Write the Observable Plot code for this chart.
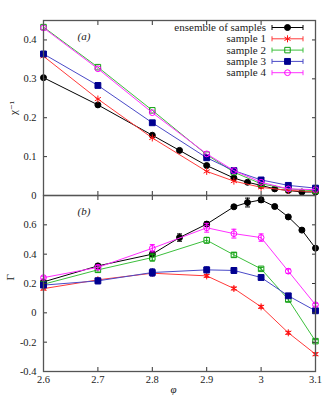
<!DOCTYPE html>
<html><head><meta charset="utf-8">
<script src="https://cdn.jsdelivr.net/npm/d3@7"></script>
<script src="https://cdn.jsdelivr.net/npm/@observablehq/plot@0.6"></script>
<style>
body{margin:0;background:#fff;}
#wrap{position:relative;width:332px;height:399px;overflow:hidden;font-family:'Liberation Serif','DejaVu Serif',serif;}
#wrap svg{position:absolute;left:0;background:transparent;}
#wrap svg text{font-family:'Liberation Serif','DejaVu Serif',serif;}
</style></head><body><div id="wrap"></div>
<script>
// ---- data ----
const phiEnsemble = [2.6, 2.7, 2.8, 2.85, 2.9, 2.95, 2.975, 3.0, 3.025, 3.05, 3.075, 3.1];
const phiSample = [2.6, 2.7, 2.8, 2.9, 2.95, 3.0, 3.05, 3.1];
const seriesNames = ["ensemble of samples", "sample 1", "sample 2", "sample 3", "sample 4"];

const chiEnsemble = [0.303, 0.233, 0.155, 0.116, 0.077, 0.045, 0.034, 0.026, 0.017, 0.013, 0.009, 0.009];
const chiS1 = [0.358, 0.248, 0.148, 0.062, 0.037, 0.021, 0.013, 0.010];
const chiS2 = [0.433, 0.330, 0.219, 0.105, 0.060, 0.030, 0.017, 0.012];
const chiS3 = [0.364, 0.283, 0.187, 0.097, 0.064, 0.040, 0.026, 0.019];
const chiS4 = [0.431, 0.326, 0.213, 0.107, 0.064, 0.034, 0.017, 0.015];

const gEnsemble = [0.211, 0.320, 0.400, 0.513, 0.605, 0.723, 0.752, 0.770, 0.725, 0.654, 0.564, 0.441];
const gS1 = [0.165, 0.225, 0.270, 0.252, 0.166, 0.041, -0.136, -0.282];
const gS2 = [0.195, 0.293, 0.377, 0.495, 0.395, 0.300, 0.091, -0.193];
const gS3 = [0.189, 0.218, 0.275, 0.293, 0.289, 0.241, 0.116, 0.014];
const gS4 = [0.240, 0.310, 0.440, 0.580, 0.540, 0.513, 0.284, 0.055];

const gErrEnsemble = [0.010, 0.012, 0.018, 0.025, 0.015, 0.010, 0.030, 0.018, 0.010, 0.010, 0.010, 0.010];
const gErrS1 = [0.010, 0.010, 0.015, 0.010, 0.010, 0.010, 0.010, 0.010];
const gErrS2 = [0.010, 0.015, 0.025, 0.020, 0.015, 0.010, 0.015, 0.010];
const gErrS3 = [0.015, 0.020, 0.025, 0.020, 0.020, 0.015, 0.010, 0.010];
const gErrS4 = [0.010, 0.015, 0.025, 0.030, 0.030, 0.025, 0.015, 0.010];

const xTicks = [2.6, 2.7, 2.8, 2.9, 3.0, 3.1];
const yTicksTop = [0, 0.1, 0.2, 0.3, 0.4];
const yTicksBottom = [-0.4, -0.2, 0, 0.2, 0.4, 0.6];
const yTicksBottomRight = [-0.4, -0.2, 0, 0.2, 0.4, 0.6, 0.8];

// ---- styles ----
const styles = [
  {line: "#000000", mark: "#000000", symbol: "circle", filled: true, r: 3},
  {line: "#ff3a3a", mark: "#ff1010", symbol: "asterisk", filled: false, r: 3.3},
  {line: "#3cbf3c", mark: "#10a010", symbol: "square", filled: false, r: 3.1},
  {line: "#4a4ac8", mark: "#000090", symbol: "square", filled: true, r: 3.3},
  {line: "#ff30ff", mark: "#ff00ff", symbol: "circle", filled: false, r: 2.9}
];
const xs = [phiEnsemble, phiSample, phiSample, phiSample, phiSample];
const chis = [chiEnsemble, chiS1, chiS2, chiS3, chiS4];
const gs = [gEnsemble, gS1, gS2, gS3, gS4];
const gErrs = [gErrEnsemble, gErrS1, gErrS2, gErrS3, gErrS4];

const cap = {draw(ctx) { ctx.moveTo(-2.5, 0); ctx.lineTo(2.5, 0); }};
const font = "'Liberation Serif', 'DejaVu Serif', serif";
const fmt = d => String(+(+d).toFixed(2));

function seriesMarks(vals, errs) {
  const marks = [];
  seriesNames.forEach((name, i) => {
    const s = styles[i];
    const rows = xs[i].map((p, j) => ({phi: p, v: vals[i][j], e: errs ? errs[i][j] : 0}));
    marks.push(Plot.line(rows, {x: "phi", y: "v", stroke: s.line, strokeWidth: 1}));
    if (errs) {
      marks.push(Plot.ruleX(rows, {x: "phi", y1: d => d.v - d.e, y2: d => d.v + d.e, stroke: s.mark, strokeWidth: 1}));
      marks.push(Plot.dot(rows, {x: "phi", y: d => d.v - d.e, symbol: cap, stroke: s.mark, fill: "none", strokeWidth: 1}));
      marks.push(Plot.dot(rows, {x: "phi", y: d => d.v + d.e, symbol: cap, stroke: s.mark, fill: "none", strokeWidth: 1}));
    }
    marks.push(Plot.dot(rows, {x: "phi", y: "v", symbol: s.symbol, r: s.r,
      fill: s.filled ? s.mark : "none", stroke: s.mark, strokeWidth: 1}));
  });
  return marks;
}

const wrap = document.getElementById("wrap");

const topPlot = Plot.plot({
  width: 332, height: 205,
  marginLeft: 43, marginRight: 17, marginTop: 20, marginBottom: 10,
  style: {fontFamily: font, fontSize: "10.5px", background: "transparent", overflow: "visible"},
  x: {domain: [2.6, 3.1], axis: null},
  y: {domain: [0, 0.45], axis: null},
  marks: [
    ...seriesMarks(chis, null),
    Plot.axisY({ticks: yTicksTop, anchor: "left", label: null, tickSize: -4, tickPadding: 11, tickFormat: fmt, fill: "#222", stroke: "#333"}),
    Plot.axisY({ticks: yTicksTop, anchor: "right", label: null, tickSize: -4, tickFormat: () => "", stroke: "#333"}),
    Plot.axisX({ticks: xTicks, anchor: "bottom", label: null, tickSize: -4, tickFormat: () => "", stroke: "#333"}),
    Plot.axisX({ticks: xTicks, anchor: "top", label: null, tickSize: -4, tickFormat: () => "", stroke: "#333"}),
    Plot.frame({stroke: "#555", strokeWidth: 1.3}),
    Plot.text(["χ⁻¹"], {frameAnchor: "left", dx: -30, dy: 7, rotate: -90, fontSize: 11, fill: "#222"}),
    Plot.text(["(a)"], {frameAnchor: "top-left", dx: 34, dy: 12, fontStyle: "italic", fontSize: 11, fill: "#222"})
  ]
});
topPlot.style.top = "0px";
wrap.appendChild(topPlot);

const bottomPlot = Plot.plot({
  width: 332, height: 214,
  marginLeft: 43, marginRight: 17, marginTop: 10, marginBottom: 28,
  style: {fontFamily: font, fontSize: "10.5px", background: "transparent", overflow: "visible"},
  x: {domain: [2.6, 3.1], axis: null},
  y: {domain: [-0.4, 0.8], axis: null},
  marks: [
    ...seriesMarks(gs, gErrs),
    Plot.axisY({ticks: yTicksBottom, anchor: "left", label: null, tickSize: -4, tickPadding: 11, tickFormat: fmt, fill: "#222", stroke: "#333"}),
    Plot.axisY({ticks: yTicksBottomRight, anchor: "right", label: null, tickSize: -4, tickFormat: () => "", stroke: "#333"}),
    Plot.axisX({ticks: xTicks, anchor: "bottom", label: null, tickSize: -4, tickPadding: 8, tickFormat: fmt, fill: "#222", stroke: "#333"}),
    Plot.axisX({ticks: xTicks, anchor: "top", label: null, tickSize: -4, tickFormat: () => "", stroke: "#333"}),
    Plot.frame({stroke: "#555", strokeWidth: 1.3}),
    Plot.text(["Γ"], {frameAnchor: "left", dx: -33, dy: -3, rotate: -90, fontSize: 11, fill: "#222"}),
    Plot.text(["(b)"], {frameAnchor: "top-left", dx: 34, dy: 12, fontStyle: "italic", fontSize: 11, fill: "#222"}),
    Plot.text(["φ"], {frameAnchor: "bottom", dx: -6, dy: 21, fontStyle: "italic", fontSize: 11, fill: "#222"})
  ]
});
bottomPlot.style.top = "185px";
wrap.appendChild(bottomPlot);

// ---- legend (overlay) ----
const leg = d3.create("svg").attr("width", 332).attr("height", 90)
  .style("top", "0px").style("font-family", font).style("font-size", "11px");
seriesNames.forEach((name, i) => {
  const s = styles[i];
  const y = 27.5 + i * 11.3;
  leg.append("text").attr("x", 266).attr("y", y).attr("dy", "0.32em")
    .attr("text-anchor", "end").attr("fill", "#222").text(name);
  const g = leg.append("g").attr("stroke", s.line).attr("stroke-width", 1).attr("fill", "none");
  g.append("line").attr("x1", 272).attr("x2", 303).attr("y1", y).attr("y2", y);
  g.append("line").attr("x1", 272).attr("x2", 272).attr("y1", y - 2.5).attr("y2", y + 2.5);
  g.append("line").attr("x1", 303).attr("x2", 303).attr("y1", y - 2.5).attr("y2", y + 2.5);
  const symType = {circle: d3.symbolCircle, square: d3.symbolSquare, asterisk: d3.symbolAsterisk}[s.symbol];
  leg.append("path").attr("transform", `translate(287.5,${y})`)
    .attr("d", d3.symbol(symType, Math.PI * s.r * s.r)())
    .attr("fill", s.filled ? s.mark : "none").attr("stroke", s.mark).attr("stroke-width", 1);
});
wrap.appendChild(leg.node());
</script></body></html>
